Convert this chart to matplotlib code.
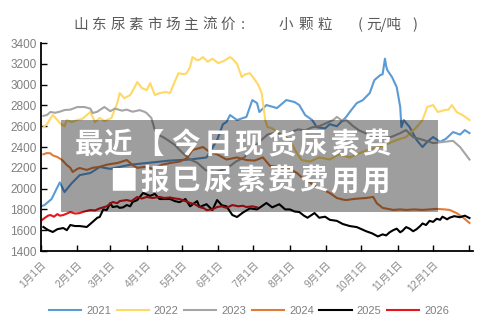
import matplotlib

matplotlib.use("Agg")

import matplotlib.pyplot as plt
from matplotlib.patches import Rectangle

# title glyphs and where their centres sit (figure pixels)
TITLE_CHARS = list("山东尿素市场主流价:小颗粒(") + ["元/吨", ")"]
TITLE_X = [80.5, 99, 117.5, 135.5, 154.5, 172.5, 190.5, 209.5, 227.5, 242.5,
           285.5, 305.5, 324.5, 360.5, 384, 415]
MONTH_TICKS = [0, 31, 59, 90, 120, 151, 181, 212, 243, 273, 304, 334, 365]
MONTH_LABELS = [f"{m}月1日" for m in range(1, 13)]
Y_TICKS = list(range(1400, 3401, 200))

BANNER_1 = list("最近【今日现货尿素费")
BANNER_1_X = [89, 118, 150, 186, 218, 249, 281, 313, 344, 376]
BANNER_2 = list("■报巳尿素费费用用")
BANNER_2_X = [123, 155, 186, 218, 250, 281, 313, 345, 376]

d2021 = [0, 3, 9, 16, 20, 26, 33, 42, 50, 59, 76, 93, 110, 127, 141, 150, 155, 158, 161, 167,
         175, 180, 184, 186, 192, 201, 209, 216, 220, 225, 231, 235, 242, 246, 252, 260, 263,
         269, 274, 280, 284, 289, 291, 293, 294, 295, 299, 303, 306, 307, 309, 314, 320, 325,
         329, 334, 340, 345, 351, 357, 361, 365]
v2021 = [1830, 1842, 1900, 2060, 1967, 2050, 2130, 2150, 2208, 2190, 2230, 2250, 2270, 2280,
         2300, 2467, 2620, 2640, 2708, 2660, 2690, 2852, 2823, 2737, 2804, 2775, 2852, 2833,
         2804, 2708, 2660, 2590, 2580, 2620, 2600, 2690, 2737, 2823, 2850, 2919, 3044, 3092,
         3100, 3250, 3180, 3140, 3073, 2977, 2785, 2592, 2660, 2592, 2467, 2400, 2450, 2496,
         2450, 2480, 2544, 2520, 2563, 2534]

d2022 = [2, 5, 10, 14, 16, 20, 22, 26, 31, 35, 39, 42, 46, 50, 54, 56, 60, 65, 67, 71, 76, 79,
         82, 86, 90, 93, 97, 101, 106, 110, 112, 117, 122, 124, 127, 129, 133, 135, 138, 142,
         146, 151, 156, 161, 163, 167, 171, 174, 178, 182, 185, 188, 191, 193, 197, 201, 206,
         212, 218, 222, 229, 237, 246, 254, 263, 271, 280, 289, 297, 303, 311, 317, 320, 325,
         329, 334, 338, 344, 347, 350, 354, 359, 365]
v2022 = [2590, 2620, 2708, 2660, 2630, 2600, 2660, 2640, 2660, 2670, 2708, 2737, 2640, 2680,
         2650, 2660, 2680, 2823, 2919, 2870, 2900, 2960, 3025, 2967, 2948, 3015, 2900, 2919,
         2929, 2920, 2977, 3110, 3100, 3110, 3170, 3265, 3236, 3240, 3265, 3220, 3250, 3207,
         3230, 3265, 3250, 3200, 3073, 3100, 3110, 3050, 3000, 2919, 2660, 2592, 2580, 2544,
         2520, 2467, 2340, 2275, 2260, 2300, 2280, 2330, 2300, 2340, 2380, 2400, 2440, 2467,
         2496, 2560, 2592, 2660, 2785, 2804, 2737, 2756, 2760, 2804, 2737, 2708, 2660]

d2023 = [2, 5, 8, 12, 16, 20, 25, 31, 37, 42, 44, 48, 50, 54, 59, 63, 69, 73, 78, 84, 88, 90,
         94, 97, 100, 104, 108, 114, 120, 127, 133, 140, 146, 152, 159, 166, 173, 180, 186,
         193, 201, 207, 212, 219, 225, 231, 237, 243, 249, 252, 257, 260, 266, 271, 277, 284,
         291, 299, 306, 311, 317, 325, 334, 342, 351, 357, 361, 365]
v2023 = [2700, 2708, 2737, 2730, 2740, 2756, 2760, 2785, 2785, 2770, 2727, 2740, 2756, 2785,
         2745, 2770, 2750, 2760, 2740, 2755, 2740, 2727, 2680, 2563, 2515, 2496, 2467, 2420,
         2350, 2280, 2250, 2180, 2150, 2170, 2200, 2260, 2300, 2380, 2450, 2520, 2540, 2500,
         2540, 2570, 2560, 2590, 2600, 2630, 2660, 2690, 2650, 2660, 2600, 2560, 2530, 2500,
         2480, 2500, 2534, 2563, 2496, 2470, 2438, 2448, 2460, 2400, 2340, 2280]

d2024 = [2, 5, 8, 10, 14, 18, 22, 25, 27, 31, 33, 39, 44, 50, 56, 61, 65, 69, 73, 78, 82, 89,
         95, 103, 110, 118, 124, 129, 138, 144, 150, 158, 167, 175, 182, 189, 195, 201, 212,
         218, 223, 229, 235, 240, 246, 252, 257, 260, 266, 271, 277, 283, 286, 291, 300, 306,
         311, 318, 325, 331, 337, 344, 348, 354, 359, 365]
v2024 = [2330, 2342, 2340, 2320, 2304, 2275, 2227, 2200, 2160, 2190, 2198, 2180, 2200, 2210,
         2230, 2240, 2246, 2260, 2275, 2227, 2200, 2210, 2190, 2230, 2246, 2260, 2290, 2371,
         2400, 2350, 2330, 2280, 2300, 2275, 2270, 2300, 2220, 2208, 2190, 2150, 2100, 2060,
         2015, 1990, 1958, 1910, 1895, 1890, 1900, 1905, 1910, 1920, 1860, 1815, 1795, 1800,
         1795, 1800, 1795, 1800, 1805, 1800, 1795, 1765, 1727, 1670]

d2025 = [2, 6, 10, 14, 19, 22, 25, 29, 33, 39, 44, 48, 50, 53, 56, 59, 61, 65, 67, 70, 73, 76,
         78, 82, 87, 93, 97, 101, 107, 110, 114, 118, 123, 127, 133, 135, 141, 146, 150, 154,
         158, 163, 167, 172, 178, 184, 188, 192, 197, 203, 208, 212, 216, 220, 224, 227, 233,
         237, 242, 246, 252, 257, 263, 269, 273, 277, 282, 287, 291, 294, 297, 300, 303, 306,
         308, 311, 314, 317, 320, 323, 325, 328, 331, 334, 337, 340, 342, 346, 348, 352, 357,
         361, 365]
v2025 = [1631, 1602, 1583, 1610, 1621, 1600, 1650, 1640, 1640, 1631, 1680, 1720, 1727, 1800,
         1794, 1860, 1823, 1830, 1815, 1820, 1842, 1830, 1871, 1890, 1958, 1930, 1950, 1900,
         1900, 1900, 1880, 1870, 1900, 1830, 1880, 1823, 1850, 1794, 1890, 1840, 1830, 1746,
         1727, 1770, 1810, 1800, 1830, 1862, 1820, 1850, 1800, 1800, 1780, 1775, 1740, 1720,
         1765, 1720, 1730, 1700, 1690, 1660, 1640, 1630, 1610, 1590, 1570, 1540, 1560, 1550,
         1580, 1600, 1615, 1580, 1595, 1630, 1615, 1590, 1610, 1640, 1665, 1650, 1690, 1680,
         1710, 1700, 1730, 1705, 1720, 1735, 1725, 1740, 1717]

d2026 = [1, 3, 6, 8, 11, 14, 16, 19, 22, 25, 29, 33, 37, 42, 46, 50, 56, 61, 65, 67, 73, 77,
         82, 86, 90, 95, 101, 105, 110, 114, 118, 123, 127, 131, 135, 139, 141, 146, 150, 154,
         158, 163, 168, 172, 175, 180, 184]
v2026 = [1700, 1717, 1740, 1746, 1730, 1755, 1740, 1746, 1760, 1775, 1760, 1765, 1780, 1794,
         1790, 1810, 1830, 1871, 1860, 1880, 1890, 1880, 1920, 1905, 1920, 1910, 1920, 1910,
         1915, 1905, 1900, 1880, 1862, 1850, 1823, 1810, 1794, 1800, 1823, 1830, 1815, 1842,
         1830, 1835, 1823, 1830, 1820]

SERIES = [
    ("2021", d2021, v2021, "#5B9BD5"),
    ("2022", d2022, v2022, "#FFD966"),
    ("2023", d2023, v2023, "#A5A5A5"),
    ("2024", d2024, v2024, "#E07B39"),
    ("2025", d2025, v2025, "#000000"),
    ("2026", d2026, v2026, "#E8161B"),
]

W, H = 500, 334
CJK = ["Liberation Sans", "Noto Sans CJK SC", "DejaVu Sans"]
BANNER_FONT = ["Noto Sans CJK SC", "DejaVu Sans"]


def px(x, y):
    return x / W, 1 - y / H


def main() -> None:
    plt.rcParams["font.family"] = CJK
    fig = plt.figure(figsize=(W / 100, H / 100), dpi=100)
    ax = fig.add_axes([0.082, 0.2485, 0.864, 0.6225])

    for name, days, vals, color in SERIES:
        ax.plot(days, vals, color=color, lw=1.5, label=name)

    ax.set_xlim(0, 368)
    ax.set_ylim(1400, 3400)
    ax.set_yticks(Y_TICKS)
    ax.set_xticks(MONTH_TICKS)
    ax.set_xticklabels(MONTH_LABELS + [""], rotation=45, ha="right",
                       rotation_mode="anchor", fontsize=7.5, color="#8c8c8c")
    ax.tick_params(axis="x", direction="in", length=4, width=1.0, pad=6)
    ax.tick_params(axis="y", direction="in", length=4, width=1.0, pad=3,
                   labelsize=8.5, labelcolor="#7f7f7f")
    for side in ("top", "right"):
        ax.spines[side].set_visible(False)
    for side in ("left", "bottom"):
        ax.spines[side].set_linewidth(1.3)

    # title, glyph by glyph to get the wide letter spacing
    for ch, x in zip(TITLE_CHARS, TITLE_X):
        fig.text(*px(x, 25), ch, ha="center", va="center", fontsize=10.5,
                 color="#595959", family=["Noto Sans CJK SC", "DejaVu Sans"])

    ax.legend(loc="center", bbox_to_anchor=px(249, 311), bbox_transform=fig.transFigure,
              ncol=6, frameon=False, fontsize=8, labelcolor="#7f7f7f",
              handlelength=2.9, handletextpad=0.45, columnspacing=0.5)

    # overlay banner
    fig.patches.append(Rectangle(px(61, 212), 377 / W, 92 / H,
                                 transform=fig.transFigure, facecolor="black",
                                 alpha=0.38, edgecolor="none", zorder=5))
    for chars, xs, y in ((BANNER_1, BANNER_1_X, 145), (BANNER_2, BANNER_2_X, 181)):
        for ch, x in zip(chars, xs):
            fig.text(*px(x, y), ch, ha="center", va="center", fontsize=20.5,
                     fontweight="bold", color="white", family=BANNER_FONT, zorder=6)

    fig.savefig("out.png", dpi=100)


if __name__ == "__main__":
    main()
